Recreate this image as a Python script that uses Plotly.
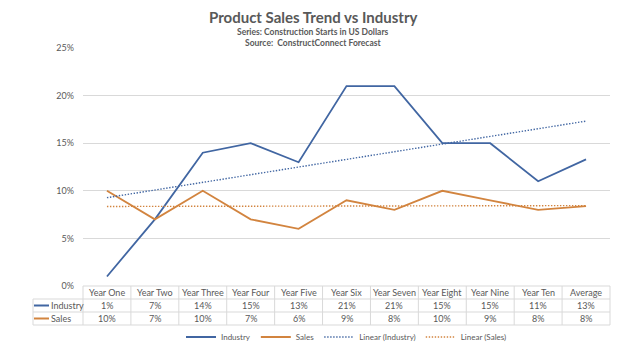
import numpy as np
import plotly.graph_objects as go

categories = ["Year One", "Year Two", "Year Three", "Year Four", "Year Five", "Year Six",
              "Year Seven", "Year Eight", "Year Nine", "Year Ten", "Average"]
industry = [1, 7, 14, 15, 13, 21, 21, 15, 15, 11, 13.3]
sales = [10, 7, 10, 7, 6, 9, 8, 10, 9, 8, 8.4]
industry_labels = ["1%", "7%", "14%", "15%", "13%", "21%", "21%", "15%", "15%", "11%", "13%"]
sales_labels = ["10%", "7%", "10%", "7%", "6%", "9%", "8%", "10%", "9%", "8%", "8%"]
y_ticks = [0, 5, 10, 15, 20, 25]
y_tick_labels = ["0%", "5%", "10%", "15%", "20%", "25%"]

BLUE = "#4166A2"
ORANGE = "#D2843F"
GRID = "#D9D9D9"
TXT = "#595959"
FONT = "Lato"

xi = np.arange(1, len(categories) + 1)
ind_fit = np.polyval(np.polyfit(xi, industry, 1), xi)
sal_fit = np.polyval(np.polyfit(xi, sales, 1), xi)

fig = go.Figure()
fig.add_trace(go.Scatter(x=categories, y=industry, mode="lines", name="Industry",
                         line=dict(color=BLUE, width=1.8)))
fig.add_trace(go.Scatter(x=categories, y=sales, mode="lines", name="Sales",
                         line=dict(color=ORANGE, width=1.8)))
fig.add_trace(go.Scatter(x=categories, y=ind_fit, mode="lines", name="Linear (Industry)",
                         line=dict(color=BLUE, width=1.4, dash="1.4px,1.6px")))
fig.add_trace(go.Scatter(x=categories, y=sal_fit, mode="lines", name="Linear (Sales)",
                         line=dict(color=ORANGE, width=1.4, dash="1.4px,1.6px")))

W, H = 624, 351
L, R, T, B = 83, 14, 48, 65
ph = H - T - B
pw = W - L - R


def py(y):
    return (H - B - y) / ph


def px(x):
    return (x - L) / pw


shapes = []
n = len(categories)
shapes.append(dict(type="line", xref="paper", yref="paper", x0=0, x1=1, y0=0, y1=0,
                   line=dict(color=GRID, width=1)))
for yy in [299, 312, 325]:
    shapes.append(dict(type="line", xref="paper", yref="paper", x0=px(33), x1=1,
                       y0=py(yy), y1=py(yy), line=dict(color=GRID, width=1)))
for k in range(n + 1):
    xx = k / n
    shapes.append(dict(type="line", xref="paper", yref="paper", x0=xx, x1=xx,
                       y0=0, y1=py(325), line=dict(color=GRID, width=1)))
shapes.append(dict(type="line", xref="paper", yref="paper", x0=px(33), x1=px(33),
                   y0=py(299), y1=py(325), line=dict(color=GRID, width=1)))
shapes.append(dict(type="line", xref="paper", yref="paper", x0=px(34), x1=px(49),
                   y0=py(305.5), y1=py(305.5), line=dict(color=BLUE, width=2)))
shapes.append(dict(type="line", xref="paper", yref="paper", x0=px(34), x1=px(49),
                   y0=py(318.5), y1=py(318.5), line=dict(color=ORANGE, width=2)))

ann = []
for i, c in enumerate(categories):
    ann.append(dict(x=c, xref="x", y=py(292.5), yref="paper", text=c, showarrow=False,
                    font=dict(size=9, color=TXT, family=FONT), xanchor="center", yanchor="middle"))
    ann.append(dict(x=c, xref="x", y=py(305.5), yref="paper", text=industry_labels[i], showarrow=False,
                    font=dict(size=9, color=TXT, family=FONT), xanchor="center", yanchor="middle"))
    ann.append(dict(x=c, xref="x", y=py(318.5), yref="paper", text=sales_labels[i], showarrow=False,
                    font=dict(size=9, color=TXT, family=FONT), xanchor="center", yanchor="middle"))
ann.append(dict(x=px(49), xref="paper", y=py(305.5), yref="paper", text="Industry", showarrow=False,
                font=dict(size=9, color=TXT, family=FONT), xanchor="left", yanchor="middle"))
ann.append(dict(x=px(49), xref="paper", y=py(318.5), yref="paper", text="Sales", showarrow=False,
                font=dict(size=9, color=TXT, family=FONT), xanchor="left", yanchor="middle"))
ann.append(dict(x=px(313), xref="paper", y=py(17), yref="paper",
                text="<b>Product Sales Trend vs Industry</b>", showarrow=False,
                font=dict(size=15, color=TXT, family=FONT), xanchor="center", yanchor="middle"))
ann.append(dict(x=px(313), xref="paper", y=py(32), yref="paper",
                text="<b>Series: Construction Starts in US Dollars</b>", showarrow=False,
                font=dict(size=8.5, color=TXT, family=FONT), xanchor="center", yanchor="middle"))
ann.append(dict(x=px(313), xref="paper", y=py(43), yref="paper",
                text="<b>Source:  ConstructConnect Forecast</b>", showarrow=False,
                font=dict(size=8.5, color=TXT, family=FONT), xanchor="center", yanchor="middle"))

fig.update_layout(
    width=W, height=H,
    margin=dict(l=L, r=R, t=T, b=B, autoexpand=False),
    paper_bgcolor="white", plot_bgcolor="white",
    font=dict(family=FONT, color=TXT, size=9),
    showlegend=True,
    legend=dict(orientation="h", x=0.5, xanchor="center", y=py(337), yanchor="middle",
                font=dict(size=8, color=TXT, family=FONT), itemwidth=30,
                bgcolor="rgba(0,0,0,0)"),
    xaxis=dict(showticklabels=False, showgrid=False, zeroline=False, showline=False,
               ticks="", range=[-0.5, n - 0.5]),
    yaxis=dict(range=[0, 25], tickvals=y_ticks, ticktext=y_tick_labels, showgrid=True,
               gridcolor=GRID, gridwidth=1, zeroline=False, showline=False, ticks="",
               tickfont=dict(size=9, color=TXT, family=FONT)),
    shapes=shapes,
    annotations=ann,
)
fig.update_yaxes(ticklabelstandoff=8)

fig.write_html("out.html")
